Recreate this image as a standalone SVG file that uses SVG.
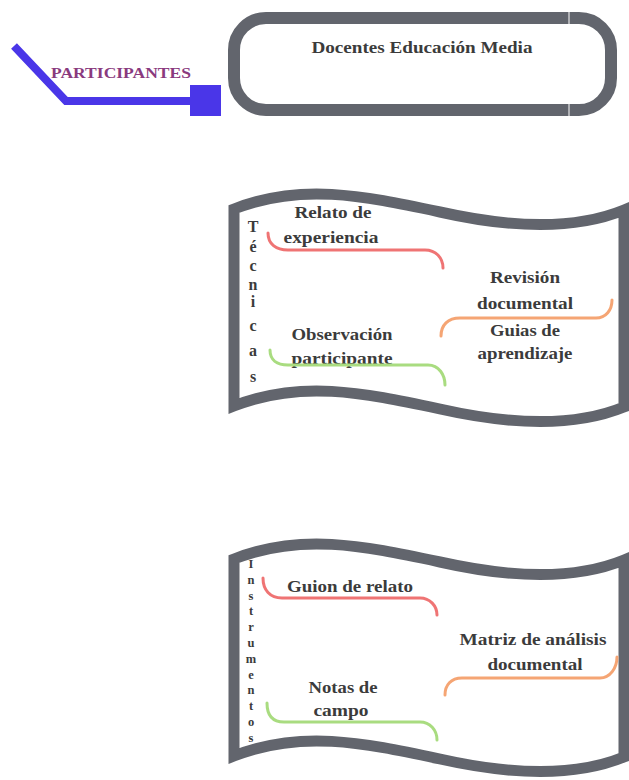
<svg xmlns="http://www.w3.org/2000/svg" width="629" height="780" viewBox="0 0 629 780">
  <style>
    .frame { fill: #ffffff; stroke: #62656d; stroke-width: 11; stroke-linejoin: miter; }
    .label { font-family: "Liberation Serif", "DejaVu Serif", serif; font-weight: bold; fill: #3b3b3b; text-anchor: middle; }
    .big { font-size: 16px; }
    .vert { font-size: 16px; }
    .vsmall { font-size: 12.5px; }
    .brace { fill: none; stroke-width: 3; stroke-linecap: round; }
    .red { stroke: #ef7474; }
    .orange { stroke: #f5a574; }
    .green { stroke: #a9dc80; }
  </style>
  <defs>
    <path id="flag" d="M234,209 C300,183 360,195 440,212 C520,230 580,228 624,210 L624,407 C580,425 520,427 440,409 C360,392 300,380 234,406 Z"/>
  </defs>

  <!-- participants tag -->
  <g id="participantes">
    <polyline points="14,46 66,101 192,101" fill="none" stroke="#4a36e8" stroke-width="8" stroke-linejoin="miter"/>
    <rect x="190" y="85" width="31" height="31" fill="#4a36e8"/>
    <text x="121" y="78" font-family="Liberation Serif, serif" font-weight="bold" font-size="14" fill="#8a3a7e" text-anchor="middle" textLength="140" lengthAdjust="spacingAndGlyphs">PARTICIPANTES</text>
  </g>

  <!-- target group box -->
  <g id="docentes">
    <rect x="234" y="18" width="377" height="92" rx="32" ry="32" fill="#ffffff" stroke="#62656d" stroke-width="12"/>
    <line x1="569" y1="12" x2="569" y2="24" stroke="#ffffff" stroke-width="1"/>
    <line x1="569" y1="104" x2="569" y2="116" stroke="#ffffff" stroke-width="1"/>
    <text class="label" x="422" y="53" font-size="17" textLength="221" lengthAdjust="spacingAndGlyphs">Docentes Educación Media</text>
  </g>

  <!-- techniques banner -->
  <g id="tecnicas">
    <use href="#flag" class="frame"/>
    <g class="label vert">
      <text x="253" y="232">T</text>
      <text x="253" y="252">é</text>
      <text x="253" y="271">c</text>
      <text x="253" y="290">n</text>
      <text x="253" y="307">i</text>
      <text x="253" y="331">c</text>
      <text x="253" y="356">a</text>
      <text x="253" y="382">s</text>
    </g>
  </g>
  <g id="relato-experiencia">
    <text class="label big" x="333" y="218" textLength="77" lengthAdjust="spacingAndGlyphs">Relato de</text>
    <text class="label big" x="331" y="243" textLength="95" lengthAdjust="spacingAndGlyphs">experiencia</text>
  </g>
  <g id="revision-documental">
    <text class="label big" x="525" y="283" textLength="70" lengthAdjust="spacingAndGlyphs">Revisión</text>
    <text class="label big" x="525" y="309" textLength="96" lengthAdjust="spacingAndGlyphs">documental</text>
  </g>
  <g id="guias-aprendizaje">
    <text class="label big" x="525" y="336" textLength="70" lengthAdjust="spacingAndGlyphs">Guias de</text>
    <text class="label big" x="525" y="359" textLength="95" lengthAdjust="spacingAndGlyphs">aprendizaje</text>
  </g>
  <g id="observacion-participante">
    <text class="label big" x="342" y="340" textLength="101" lengthAdjust="spacingAndGlyphs">Observación</text>
    <text class="label big" x="342" y="364" textLength="101" lengthAdjust="spacingAndGlyphs">participante</text>
  </g>

  <!-- instruments banner -->
  <g id="instrumentos">
    <use href="#flag" class="frame" transform="translate(0,350)"/>
    <g class="label vsmall">
      <text x="251" y="568">I</text>
      <text x="251" y="584">n</text>
      <text x="251" y="600">s</text>
      <text x="251" y="615">t</text>
      <text x="251" y="631">r</text>
      <text x="251" y="647">u</text>
      <text x="251" y="663">m</text>
      <text x="251" y="679">e</text>
      <text x="251" y="694">n</text>
      <text x="251" y="710">t</text>
      <text x="251" y="726">o</text>
      <text x="251" y="742">s</text>
    </g>
  </g>
  <g id="guion-relato">
    <text class="label big" x="350" y="592" textLength="126" lengthAdjust="spacingAndGlyphs">Guion de relato</text>
  </g>
  <g id="matriz-analisis">
    <text class="label big" x="533" y="645" textLength="147" lengthAdjust="spacingAndGlyphs">Matriz de análisis</text>
    <text class="label big" x="535" y="670" textLength="95" lengthAdjust="spacingAndGlyphs">documental</text>
  </g>
  <g id="notas-campo">
    <text class="label big" x="343" y="693" textLength="69" lengthAdjust="spacingAndGlyphs">Notas de</text>
    <text class="label big" x="341" y="716" textLength="55" lengthAdjust="spacingAndGlyphs">campo</text>
  </g>

  <!-- brace connectors under each item -->
  <g id="connectors">
    <path class="brace red" d="M268,233 C268,244 276,250 288,250 L425,250 C436,250 443,258 443,268"/>
    <path class="brace orange" d="M441,336 C441,325 448,318 460,318 L596,318 C606,318 612,310 612,300"/>
    <path class="brace green" d="M270,350 C270,360 277,365 288,365 L428,365 C439,365 445,375 445,385"/>
    <path class="brace red" d="M263,578 C263,590 270,598 282,598 L420,598 C430,598 437,606 437,615"/>
    <path class="brace orange" d="M445,695 C445,685 451,678 462,678 L600,678 C610,678 617,668 617,657"/>
    <path class="brace green" d="M267,703 C267,715 272,722 284,722 L420,722 C430,722 437,730 437,740"/>
  </g>
</svg>
